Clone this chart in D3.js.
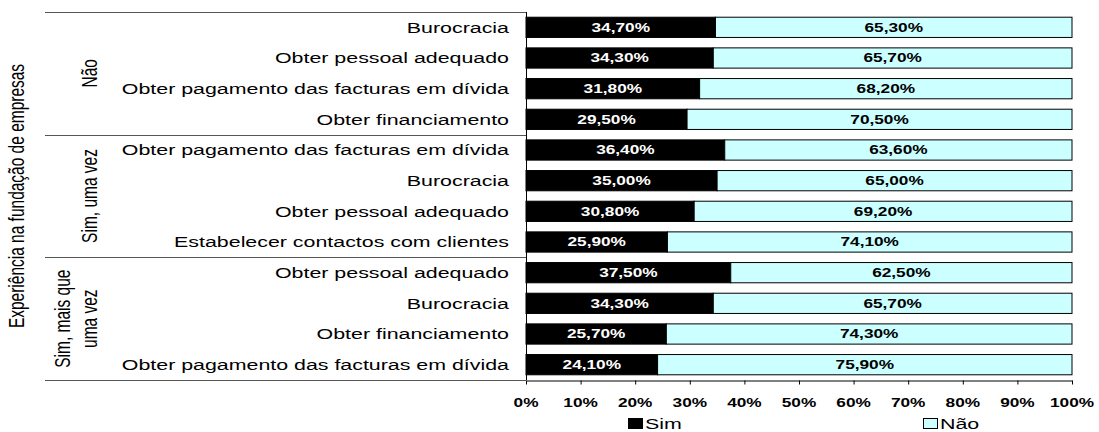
<!DOCTYPE html>
<html>
<head>
<meta charset="utf-8">
<script src="https://cdn.jsdelivr.net/npm/d3@7"></script>
<style>
  body { margin: 0; background: #fff; }
  svg text { font-family: Arial, "Liberation Sans", sans-serif; }
</style>
</head>
<body>
<svg width="1099" height="432"></svg>
<script>
// dados
var groups = ["Não", "Sim, uma vez", "Sim, mais que uma vez"];
var categories = [
  "Burocracia", "Obter pessoal adequado", "Obter pagamento das facturas em dívida", "Obter financiamento",
  "Obter pagamento das facturas em dívida", "Burocracia", "Obter pessoal adequado", "Estabelecer contactos com clientes",
  "Obter pessoal adequado", "Burocracia", "Obter financiamento", "Obter pagamento das facturas em dívida"
];
var sim = [34.7, 34.3, 31.8, 29.5, 36.4, 35.0, 30.8, 25.9, 37.5, 34.3, 25.7, 24.1];
var nao = [65.3, 65.7, 68.2, 70.5, 63.6, 65.0, 69.2, 74.1, 62.5, 65.7, 74.3, 75.9];
var ticks = [0, 10, 20, 30, 40, 50, 60, 70, 80, 90, 100];

var svg = d3.select("svg");
var pLeft = 526, pRight = 1072, pTop = 12, pBottom = 380;
var SX = 1.38; // o gráfico original está esticado na horizontal

var x = d3.scaleLinear().domain([0, 100]).range([pLeft, pRight]);
var y = d3.scaleBand().domain(d3.range(12)).range([pTop, pBottom]).paddingInner(0.34).paddingOuter(0.17);
var fmt = function(v) { return v.toFixed(2).replace(".", ",") + "%"; };

// texto esticado: posição (px, py), escala horizontal SX
function label(parent, px, py, rot) {
  return parent.append("text")
    .attr("transform", "translate(" + px + "," + py + ") scale(" + SX + ",1)" + (rot ? " rotate(" + rot + ")" : ""))
    .attr("dy", "0.35em");
}

var g = svg.append("g");
d3.range(12).forEach(function(i) {
  var yc = y(i) + y.bandwidth() / 2;
  g.append("rect")
    .attr("x", x(0)).attr("y", y(i))
    .attr("width", x(sim[i]) - x(0)).attr("height", y.bandwidth())
    .attr("fill", "#000").attr("stroke", "#000");
  g.append("rect")
    .attr("x", x(sim[i])).attr("y", y(i))
    .attr("width", x(sim[i] + nao[i]) - x(sim[i])).attr("height", y.bandwidth())
    .attr("fill", "#ccffff").attr("stroke", "#000");

  label(g, (x(0) + x(sim[i])) / 2, yc)
    .attr("text-anchor", "middle").attr("fill", "#fff")
    .style("font-size", "12.5px").style("font-weight", "bold")
    .text(fmt(sim[i]));
  label(g, (x(sim[i]) + x(sim[i] + nao[i])) / 2, yc)
    .attr("text-anchor", "middle").attr("fill", "#000")
    .style("font-size", "12.5px").style("font-weight", "bold")
    .text(fmt(nao[i]));
  label(g, 509, yc)
    .attr("text-anchor", "end").attr("fill", "#000")
    .style("font-size", "15.5px")
    .text(categories[i]);
});

// eixo vertical e separadores de grupo
var step = (pBottom - pTop) / 12;
svg.append("line").attr("x1", pLeft + 0.5).attr("x2", pLeft + 0.5).attr("y1", pTop).attr("y2", pBottom)
  .attr("stroke", "#000");
[0, 4, 8, 12].forEach(function(k) {
  var yy = Math.round(pTop + k * step) + 0.5;
  svg.append("line").attr("x1", 45).attr("x2", pLeft).attr("y1", yy).attr("y2", yy)
    .attr("stroke", "#555").attr("stroke-width", 1);
});

// eixo x
var xAxis = svg.append("g").attr("transform", "translate(0," + (pBottom + 0.5) + ")")
  .call(d3.axisBottom(x).tickValues(ticks).tickSize(4).tickSizeOuter(0).tickFormat(function() { return ""; }));
xAxis.select(".domain").attr("stroke", "#000");
ticks.forEach(function(t) {
  label(svg, x(t), 403)
    .attr("text-anchor", "middle").attr("fill", "#000")
    .style("font-size", "12.5px").style("font-weight", "bold")
    .text(t + "%");
});

// rótulos dos grupos
var groupLines = [["Não"], ["Sim, uma vez"], ["Sim, mais que", "uma vez"]];
groupLines.forEach(function(lines, gi) {
  var cy = pTop + (gi * 4 + 2) * step;
  var n = lines.length;
  lines.forEach(function(t, j) {
    var cx = 90 - (n - 1 - j) * 27;
    label(svg, cx, cy, -90)
      .attr("text-anchor", "middle").attr("fill", "#000")
      .style("font-size", "15.5px").text(t);
  });
});

label(svg, 17, (pTop + pBottom) / 2, -90)
  .attr("text-anchor", "middle").attr("fill", "#000")
  .style("font-size", "15.5px").text("Experiência na fundação de empresas");

// legenda
var legend = [["Sim", "#000", 628], ["Não", "#ccffff", 923]];
legend.forEach(function(l) {
  svg.append("rect").attr("x", l[2] + 0.5).attr("y", 418.5).attr("width", 14).attr("height", 10)
    .attr("fill", l[1]).attr("stroke", "#000");
  label(svg, l[2] + 17, 424)
    .attr("fill", "#000").style("font-size", "15.5px").text(l[0]);
});
</script>
</body>
</html>
